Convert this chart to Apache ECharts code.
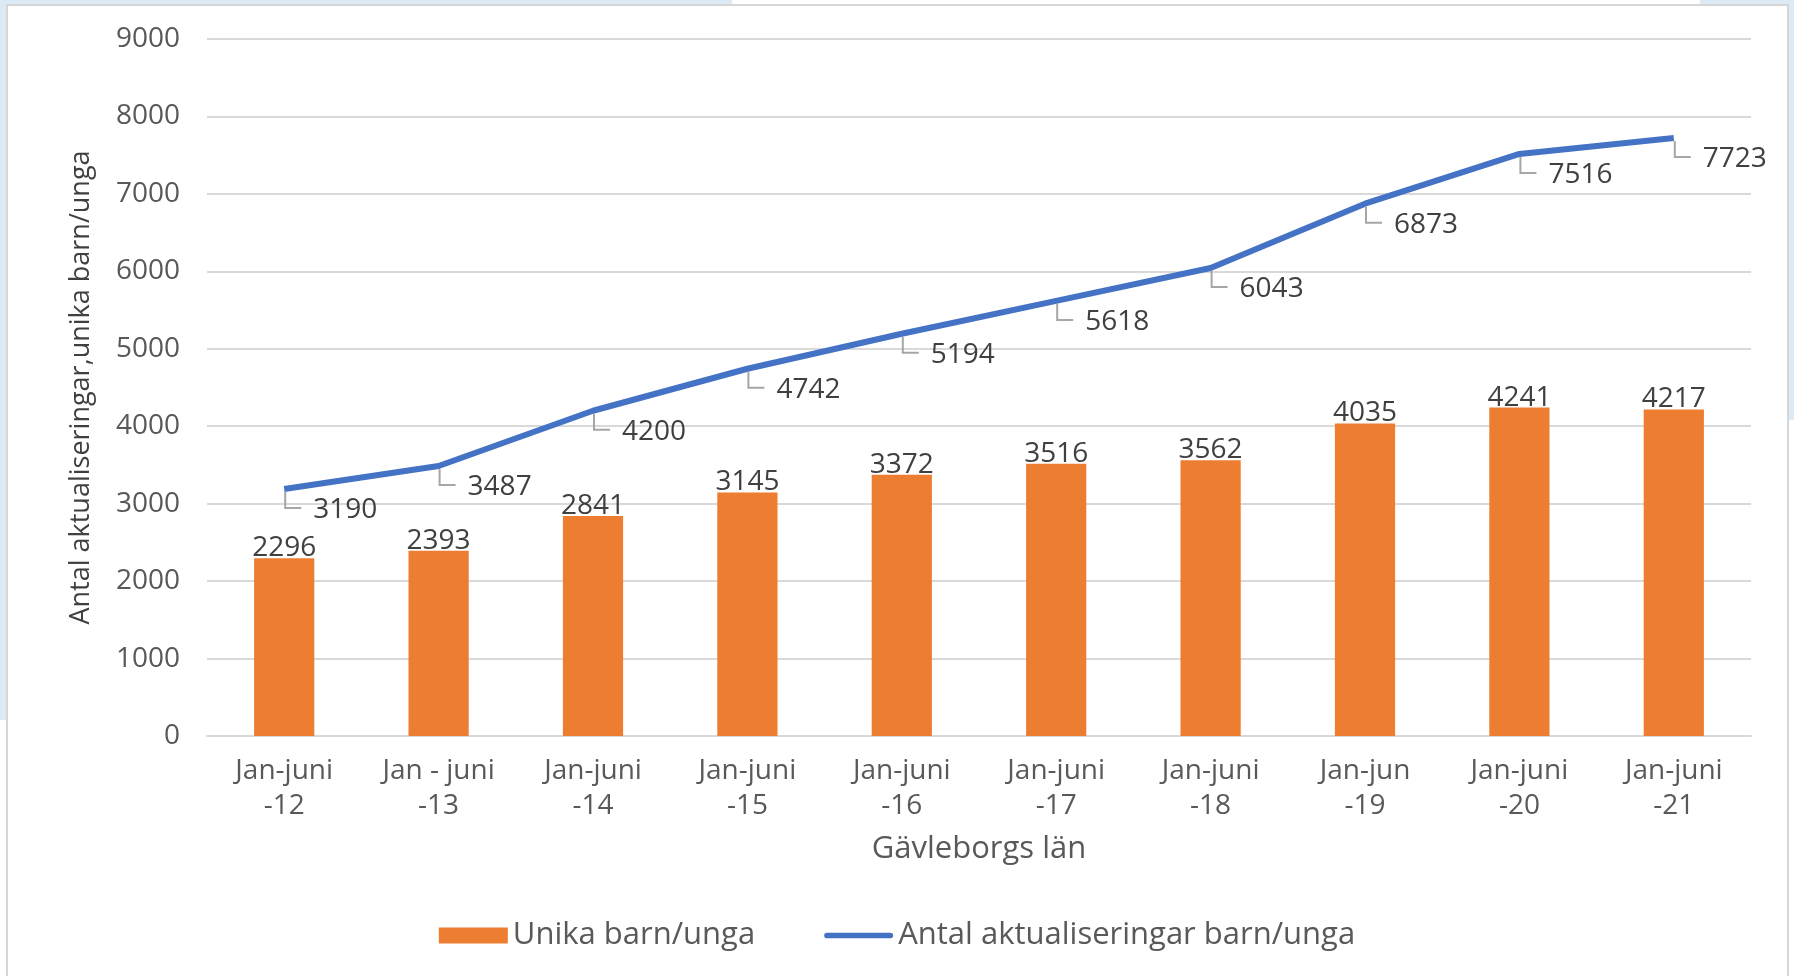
<!DOCTYPE html>
<html>
<head>
<meta charset="utf-8">
<script src="https://cdn.jsdelivr.net/npm/echarts@6/dist/echarts.min.js"></script>
<style>
html,body{margin:0;padding:0;background:#fff;}
#chart{width:1794px;height:976px;}
</style>
</head>
<body>
<div id="chart"></div>
<script>
const categories = ['Jan-juni\n-12','Jan - juni\n-13','Jan-juni\n-14','Jan-juni\n-15','Jan-juni\n-16','Jan-juni\n-17','Jan-juni\n-18','Jan-jun\n-19','Jan-juni\n-20','Jan-juni\n-21'];
const unikaValues = [2296, 2393, 2841, 3145, 3372, 3516, 3562, 4035, 4241, 4217];
const aktualiseringarValues = [3190, 3487, 4200, 4742, 5194, 5618, 6043, 6873, 7516, 7723];
const seriesNames = ['Unika barn/unga', 'Antal aktualiseringar barn/unga'];
const xAxisTitle = 'Gävleborgs län';
const yAxisTitle = 'Antal aktualiseringar,unika barn/unga';

const FONT = '"Open Sans", sans-serif';
const FS = 28;
const chart = echarts.init(document.getElementById('chart'), null, {renderer: 'canvas'});

const lineLabelData = aktualiseringarValues.map((v, i) => [i, v]);

chart.setOption({
  backgroundColor: '#ffffff',
  animation: false,
  graphic: [
    {type: 'rect', z: -10, shape: {x: 0, y: 0, width: 7, height: 720}, style: {fill: '#dbeaf4'}},
    {type: 'rect', z: -10, shape: {x: 0, y: 0, width: 732, height: 5}, style: {fill: '#dbeaf4'}},
    {type: 'rect', z: -10, shape: {x: 1700, y: 0, width: 94, height: 5}, style: {fill: '#dbeaf4'}},
    {type: 'rect', z: -10, shape: {x: 1788, y: 0, width: 6, height: 420}, style: {fill: '#dbeaf4'}},
    {type: 'rect', z: -9, shape: {x: 7, y: 5, width: 1781, height: 980}, style: {fill: '#ffffff', stroke: '#d6d6d6', lineWidth: 2}}
  ],
  grid: {left: 207, right: 43, top: 39, bottom: 240, containLabel: false},
  legend: {
    left: 'center',
    bottom: 20,
    itemGap: 69,
    itemWidth: 69,
    itemHeight: 16,
    textStyle: {fontFamily: FONT, fontSize: 31, color: '#595959', padding: [0, 0, 0, 0]},
    data: [
      {name: seriesNames[0], icon: 'rect'},
      {name: seriesNames[1], icon: 'path://M3,0 L70,0 A3,3 0 0 1 70,6 L3,6 A3,3 0 0 1 3,0 Z'}
    ]
  },
  xAxis: {
    type: 'category',
    data: categories,
    axisLine: {show: true, lineStyle: {color: '#d9d9d9', width: 2}},
    axisTick: {show: false},
    axisLabel: {fontFamily: FONT, fontSize: FS, color: '#595959', lineHeight: 35, margin: 18, interval: 0},
    name: xAxisTitle,
    nameLocation: 'middle',
    nameGap: 98,
    nameTextStyle: {fontFamily: FONT, fontSize: 31, color: '#595959'}
  },
  yAxis: {
    type: 'value',
    min: 0,
    max: 9000,
    interval: 1000,
    axisLine: {show: false},
    axisTick: {show: false},
    splitLine: {lineStyle: {color: '#d9d9d9', width: 2}},
    axisLabel: {fontFamily: FONT, fontSize: FS, color: '#595959', margin: 27, formatter: function (v) { return String(v); }},
    name: yAxisTitle,
    nameLocation: 'middle',
    nameRotate: 90,
    nameGap: 112,
    nameTextStyle: {fontFamily: FONT, fontSize: 27, color: '#404040'}
  },
  series: [
    {
      name: seriesNames[0],
      type: 'bar',
      data: unikaValues,
      barWidth: '39%',
      itemStyle: {color: '#ed7d31'},
      label: {show: true, position: 'top', distance: -4, fontFamily: FONT, fontSize: FS, color: '#404040'},
      z: 2
    },
    {
      name: seriesNames[1],
      type: 'line',
      data: aktualiseringarValues,
      showSymbol: false,
      symbol: 'none',
      color: '#4472c4',
      itemStyle: {color: '#4472c4'},
      lineStyle: {color: '#4472c4', width: 6},
      z: 3
    },
    {
      name: 'lineLabels',
      type: 'custom',
      data: lineLabelData,
      z: 4,
      silent: true,
      renderItem: function (params, api) {
        const p = api.coord([api.value(0), api.value(1)]);
        const x = p[0], y = p[1];
        return {
          type: 'group',
          children: [
            {type: 'polyline', shape: {points: [[x + 1, y + 3], [x + 1, y + 19], [x + 17, y + 19]]}, style: {stroke: '#a6a6a6', lineWidth: 2, fill: null}},
            {type: 'text', style: {x: x + 29, y: y + 21, text: String(api.value(1)), fontFamily: FONT, fontSize: FS, fill: '#404040', textAlign: 'left', textVerticalAlign: 'middle'}}
          ]
        };
      }
    }
  ]
});
</script>
</body>
</html>
